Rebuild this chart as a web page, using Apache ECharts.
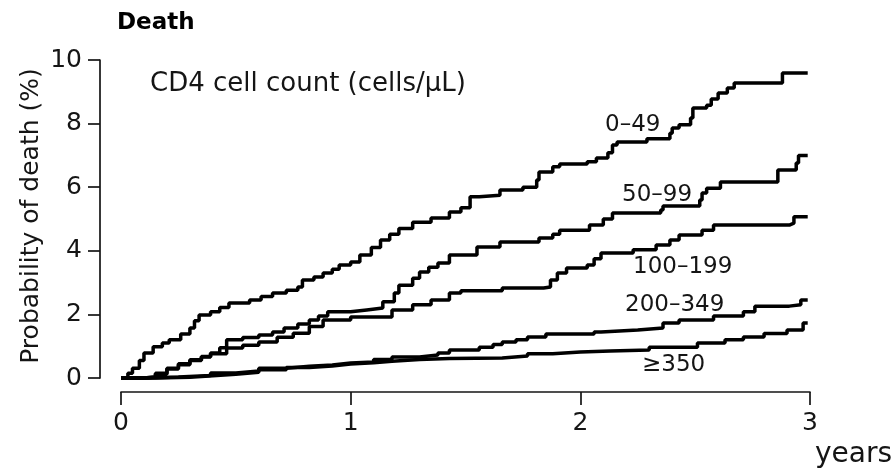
<!DOCTYPE html>
<html>
<head>
<meta charset="utf-8">
<script src="https://cdn.jsdelivr.net/npm/echarts@6/dist/echarts.min.js"></script>
<style>
html,body{margin:0;padding:0;background:#fff;}
#chart{width:896px;height:474px;}
</style>
</head>
<body>
<div id="chart"></div>
<script>
// ---- data (years, % probability of death), Kaplan-Meier style steps ----
const xTicks = [0, 1, 2, 3];
const yTicks = [0, 2, 4, 6, 8, 10];
const seriesNames = ['0–49', '50–99', '100–199', '200–349', '≥350'];

const s0_49 = [[0,0],[0.03,0.15],[0.05,0.31],[0.08,0.55],[0.10,0.79],[0.14,0.98],[0.18,1.1],[0.21,1.2],[0.26,1.38],[0.30,1.57],[0.32,1.8],[0.34,1.98],[0.39,2.08],[0.43,2.22],[0.47,2.36],[0.56,2.45],[0.61,2.56],[0.66,2.67],[0.72,2.76],[0.77,2.86],[0.79,3.08],[0.84,3.18],[0.88,3.3],[0.92,3.42],[0.95,3.55],[1.0,3.65],[1.04,3.87],[1.09,4.1],[1.13,4.34],[1.17,4.52],[1.21,4.7],[1.27,4.9],[1.35,5.03],[1.43,5.22],[1.48,5.35],[1.52,5.7],[1.56,5.75],[1.65,5.91],[1.75,6.0],[1.81,6.23],[1.82,6.48],[1.88,6.64],[1.91,6.73],[2.03,6.8],[2.07,6.92],[2.12,7.08],[2.14,7.33],[2.16,7.42],[2.29,7.52],[2.39,7.7],[2.40,7.86],[2.43,7.96],[2.48,8.18],[2.49,8.49],[2.55,8.58],[2.57,8.77],[2.60,8.96],[2.64,9.12],[2.67,9.28],[2.88,9.59],[2.99,9.59]];

const s50_99 = [[0,0],[0.1,0.03],[0.15,0.15],[0.2,0.31],[0.25,0.45],[0.3,0.57],[0.35,0.68],[0.39,0.79],[0.43,0.95],[0.46,1.2],[0.53,1.27],[0.6,1.35],[0.66,1.45],[0.71,1.57],[0.77,1.7],[0.82,1.82],[0.86,1.95],[0.9,2.08],[1.0,2.14],[1.07,2.2],[1.14,2.4],[1.19,2.67],[1.21,2.92],[1.27,3.14],[1.30,3.33],[1.34,3.48],[1.38,3.62],[1.43,3.87],[1.55,4.12],[1.65,4.28],[1.82,4.4],[1.88,4.52],[1.91,4.65],[2.04,4.81],[2.1,5.0],[2.14,5.19],[2.35,5.28],[2.36,5.41],[2.52,5.6],[2.53,5.82],[2.55,5.97],[2.61,6.16],[2.86,6.54],[2.94,6.76],[2.95,7.0],[2.99,7.0]];

const s100_199 = [[0,0],[0.1,0.03],[0.15,0.12],[0.2,0.28],[0.25,0.42],[0.3,0.55],[0.35,0.66],[0.39,0.76],[0.46,0.94],[0.53,1.03],[0.6,1.13],[0.68,1.28],[0.75,1.41],[0.82,1.62],[0.88,1.82],[1.0,1.92],[1.18,2.14],[1.27,2.3],[1.35,2.45],[1.43,2.67],[1.48,2.74],[1.66,2.83],[1.84,2.86],[1.87,3.08],[1.9,3.3],[1.94,3.46],[2.03,3.55],[2.06,3.75],[2.09,3.93],[2.23,4.03],[2.33,4.18],[2.39,4.34],[2.43,4.5],[2.53,4.65],[2.58,4.81],[2.91,4.87],[2.93,5.07],[2.99,5.07]];

const s200_349 = [[0,0],[0.12,0.03],[0.25,0.08],[0.39,0.16],[0.5,0.22],[0.6,0.31],[0.72,0.37],[0.82,0.41],[0.92,0.47],[1.0,0.5],[1.1,0.58],[1.18,0.66],[1.3,0.72],[1.38,0.79],[1.43,0.88],[1.56,0.97],[1.62,1.05],[1.66,1.13],[1.72,1.2],[1.77,1.29],[1.85,1.38],[2.06,1.45],[2.09,1.51],[2.25,1.57],[2.36,1.73],[2.43,1.82],[2.58,1.95],[2.71,2.08],[2.76,2.26],[2.91,2.3],[2.96,2.45],[2.99,2.45]];

const s350 = [[0,0],[0.15,0.02],[0.3,0.07],[0.4,0.12],[0.5,0.18],[0.6,0.26],[0.72,0.33],[0.82,0.38],[0.92,0.44],[1.0,0.48],[1.1,0.53],[1.18,0.58],[1.3,0.61],[1.43,0.63],[1.66,0.69],[1.77,0.76],[1.88,0.82],[2.0,0.85],[2.13,0.88],[2.3,0.97],[2.51,1.1],[2.63,1.2],[2.71,1.29],[2.8,1.4],[2.9,1.51],[2.97,1.73],[2.99,1.73]];

const allSeries = [s0_49, s50_99, s100_199, s200_349, s350];

// ---- chart ----
const FONT = 'DejaVu Sans';
const TXT = '#151515';
const chart = echarts.init(document.getElementById('chart'), null, {renderer: 'canvas'});

const labelPos = [
  {x: 605, y: 125}, {x: 622, y: 195}, {x: 633, y: 267}, {x: 625, y: 305}, {x: 642, y: 365}
];

const graphics = [
  {type: 'text', left: 117, top: 12, style: {text: 'Death', font: 'bold 23px "DejaVu Sans"', fill: '#000'}},
  {type: 'text', x: 150, y: 84, style: {text: 'CD4 cell count (cells/μL)', font: '26px "DejaVu Sans"', fill: TXT, verticalAlign: 'middle'}},
  {type: 'text', x: 815, y: 469, style: {text: 'years', font: '28px "DejaVu Sans"', fill: TXT, verticalAlign: 'bottom'}},
  {type: 'text', x: 31, y: 216, rotation: Math.PI / 2, style: {text: 'Probability of death (%)', font: '25px "DejaVu Sans"', fill: TXT, align: 'center', verticalAlign: 'middle'}}
];
seriesNames.forEach((n, i) => {
  graphics.push({type: 'text', x: labelPos[i].x, y: labelPos[i].y, style: {text: n, font: '23px "DejaVu Sans"', fill: TXT, verticalAlign: 'middle'}});
});

chart.setOption({
  animation: false,
  backgroundColor: '#fff',
  grid: {left: 121, right: 86, top: 60, bottom: 96, containLabel: false, outerBoundsMode: 'none'},
  xAxis: {
    type: 'value', min: xTicks[0], max: xTicks[xTicks.length - 1], interval: 1,
    offset: 14,
    axisLine: {show: true, onZero: false, lineStyle: {color: TXT, width: 1.7}},
    axisTick: {show: true, length: 13, lineStyle: {color: TXT, width: 1.7}},
    axisLabel: {color: TXT, fontFamily: FONT, fontSize: 25, margin: 19},
    splitLine: {show: false}
  },
  yAxis: {
    type: 'value', min: yTicks[0], max: yTicks[yTicks.length - 1], interval: 2,
    offset: 21,
    axisLine: {show: true, onZero: false, lineStyle: {color: TXT, width: 1.7}},
    axisTick: {show: true, length: 12, lineStyle: {color: TXT, width: 1.7}},
    axisLabel: {color: TXT, fontFamily: FONT, fontSize: 25, margin: 18},
    splitLine: {show: false}
  },
  series: allSeries.map((d, i) => ({
    name: seriesNames[i],
    type: 'line',
    step: 'end',
    data: d,
    showSymbol: false,
    symbol: 'none',
    clip: false,
    lineStyle: {color: '#000', width: 3.5},
    z: 5 - i
  })),
  graphic: graphics
});
</script>
</body>
</html>
